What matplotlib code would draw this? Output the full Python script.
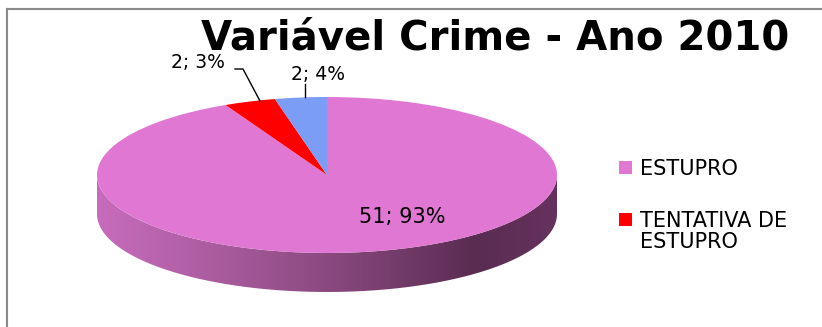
import numpy as np
import matplotlib
matplotlib.use("Agg")
import matplotlib.pyplot as plt
from matplotlib.patches import PathPatch, Rectangle
from matplotlib.path import Path
from matplotlib.transforms import Affine2D
from matplotlib.colors import LinearSegmentedColormap

# data
counts = [51, 2, 2]
pct_labels = [93, 3, 4]
legend_names = ["ESTUPRO", "TENTATIVA DE\nESTUPRO"]
colors = ["#E077D3", "#FF0000", "#7B9DF6"]
title = "Variável Crime - Ano 2010"

W, H = 822, 327
fig = plt.figure(figsize=(W / 100, H / 100), dpi=100)
ax = fig.add_axes([0, 0, 1, 1])

# pie geometry in pixels (squashed ellipse + side depth)
cx, cy, a, b, depth = 327, 175, 230, 78, 39

# side of the 3d pie (front half only)
t = np.linspace(0, np.pi, 200)
top_arc = np.column_stack([cx + a * np.cos(t), cy + b * np.sin(t)])
bot_arc = np.column_stack([cx + a * np.cos(t[::-1]), cy + depth + b * np.sin(t[::-1])])
verts = np.vstack([top_arc, bot_arc, top_arc[:1]])
side = PathPatch(Path(verts), facecolor="none", edgecolor="none")
ax.add_patch(side)
side_cmap = LinearSegmentedColormap.from_list(
    "side", [(0, "#C76BBB"), (0.2, "#B160A6"), (0.5, "#8A4A80"),
             (0.82, "#5A2C52"), (1, "#65325D")])
grad = np.linspace(0, 1, 300)[None, :]
im = ax.imshow(grad, cmap=side_cmap, aspect="auto",
               extent=(cx - a, cx + a, cy + depth + b + 1, cy - b), zorder=1)
im.set_clip_path(side)

# top of the pie
wedges, _ = ax.pie(counts, colors=colors, startangle=90, counterclock=False,
                   radius=1, center=(0, 0), wedgeprops=dict(linewidth=0))
squash = Affine2D().scale(a, -b).translate(cx, cy) + ax.transData
for w in wedges:
    w.set_transform(squash)
    w.set_zorder(2)

ax.set_xlim(0, W)
ax.set_ylim(H, 0)
ax.set_aspect("auto")
ax.set_axis_off()

# data labels
lab_font = dict(family="DejaVu Sans", color="black")
ax.text(402, 217, f"{counts[0]}; {pct_labels[0]}%", ha="center", va="center",
        fontsize=15, zorder=3, **lab_font)
ax.text(198, 62, f"{counts[1]}; {pct_labels[1]}%", ha="center", va="center",
        fontsize=13.5, **lab_font)
ax.text(318, 75, f"{counts[2]}; {pct_labels[2]}%", ha="center", va="center",
        fontsize=13.5, **lab_font)
ax.plot([235, 243, 260], [69, 69, 101], color="black", lw=1, zorder=3)
ax.plot([305, 305], [84, 97], color="black", lw=1, zorder=3)

ax.text(495, 50, title, ha="center", va="baseline", fontsize=29,
        fontweight="bold", family="DejaVu Sans")

# legend: square aligned with the first text line
for name, w, yc in zip(legend_names, wedges, [167, 219]):
    ax.add_patch(Rectangle((619, yc - 6.5), 13, 13, facecolor=w.get_facecolor(),
                           edgecolor="none"))
    ax.text(640, yc - 8, name, ha="left", va="top", fontsize=15,
            linespacing=1.05, family="DejaVu Sans")

# chart area border (top and left visible)
ax.plot([7, W], [9, 9], color="#8A8A8A", lw=1.5, clip_on=False)
ax.plot([7, 7], [9, H], color="#8A8A8A", lw=1.5, clip_on=False)

fig.savefig("out.png", dpi=100)
